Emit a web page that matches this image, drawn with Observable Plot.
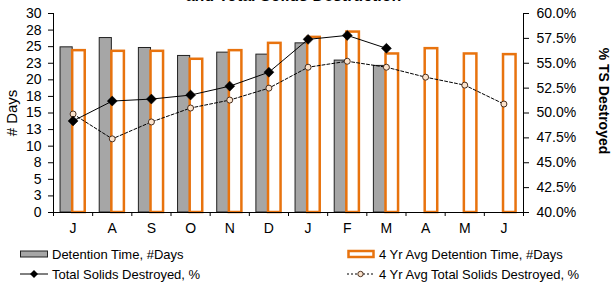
<!DOCTYPE html>
<html>
<head>
<meta charset="utf-8">
<script src="https://cdn.jsdelivr.net/npm/d3@7"></script>
<script src="https://cdn.jsdelivr.net/npm/@observablehq/plot@0.6"></script>
<style>
  html, body { margin: 0; padding: 0; background: white; }
  #wrap { position: relative; width: 614px; height: 289px; overflow: hidden; font-family: "Liberation Sans", Arial, sans-serif; }
  #legend { position: absolute; left: 0; top: 240px; width: 614px; font-size: 13px; color: #000; }
  .row { position: relative; height: 20px; }
  .item { position: absolute; top: 0; height: 20px; display: flex; align-items: center; white-space: nowrap; }
  .item svg { margin-right: 2px; }
</style>
</head>
<body>
<div id="wrap">
  <div id="chart"></div>
  <div id="legend">
    <div class="row" style="margin-top:4px">
      <div class="item" style="left:20px">
        <svg width="30" height="10"><rect x="0.5" y="2" width="27" height="6" fill="#a6a6a6" stroke="#222" stroke-width="1"/></svg>Detention Time, #Days
      </div>
      <div class="item" style="left:347px">
        <svg width="30" height="10"><rect x="1.5" y="2" width="25" height="6" fill="white" stroke="#e8730e" stroke-width="2.5"/></svg>4 Yr Avg Detention Time, #Days
      </div>
    </div>
    <div class="row">
      <div class="item" style="left:20px">
        <svg width="30" height="10"><line x1="0" y1="5" x2="28" y2="5" stroke="#000" stroke-width="1"/><path d="M14,1 L18,5 L14,9 L10,5 Z" fill="#000"/></svg>Total Solids Destroyed, %
      </div>
      <div class="item" style="left:347px">
        <svg width="30" height="10"><line x1="0" y1="5" x2="27" y2="5" stroke="#000" stroke-width="1" stroke-dasharray="2,2"/><circle cx="13.5" cy="5" r="2.7" fill="#fbe3cc" stroke="#4a3020" stroke-width="1"/></svg>4 Yr Avg Total Solids Destroyed, %
      </div>
    </div>
  </div>
</div>
<script>
const months = ["J","A","S","O","N","D","J","F","M","A","M","J"];
const detention = [24.9, 26.3, 24.8, 23.6, 24.1, 23.8, 25.5, 22.9, 22.1, null, null, null];
const avgDetention = [24.4, 24.3, 24.3, 23.1, 24.4, 25.5, 26.4, 27.2, 23.9, 24.7, 23.9, 23.8];
const tsDestroyed = [49.2, 51.2, 51.4, 51.8, 52.7, 54.1, 57.4, 57.8, 56.5, null, null, null];
const avgTsDestroyed = [49.9, 47.4, 49.1, 50.5, 51.3, 52.5, 54.6, 55.2, 54.6, 53.6, 52.8, 50.9];
const leftTicks = [0, 2.5, 5, 7.5, 10, 12.5, 15, 17.5, 20, 22.5, 25, 27.5, 30];
const leftTickLabels = ["0","3","5","8","10","13","15","18","20","23","25","28","30"];
const rightTicks = [40, 42.5, 45, 47.5, 50, 52.5, 55, 57.5, 60];
const rightTickLabels = ["40.0%","42.5%","45.0%","47.5%","50.0%","52.5%","55.0%","57.5%","60.0%"];

// map % (right axis 40..60) onto days scale (0..30)
const pctToDays = p => (p - 40) * 1.5;

const rows = months.map((m, i) => ({
  i, m,
  det: detention[i], avgDet: avgDetention[i],
  ts: tsDestroyed[i], avgTs: avgTsDestroyed[i]
}));
const orange = "#e8730e";

const plot = Plot.plot({
  width: 614, height: 240,
  marginLeft: 53, marginRight: 91, marginTop: 13, marginBottom: 28,
  style: { fontFamily: "Liberation Sans, Arial, sans-serif", fontSize: "14px", color: "#000", background: "white", overflow: "visible" },
  x: { domain: [-0.5, 11.5], axis: null },
  y: { domain: [0, 30], axis: null },
  marks: [
    Plot.rectY(rows.filter(d => d.det != null), { x1: d => d.i - 0.32, x2: d => d.i - 0.01, y: "det", fill: "#a6a6a6", stroke: "#222", strokeWidth: 1 }),
    Plot.rectY(rows, { x1: d => d.i - 0.01, x2: d => d.i + 0.31, y: "avgDet", fill: "white", stroke: orange, strokeWidth: 2.5 }),
    Plot.ruleY([0], { stroke: "#000", strokeWidth: 1 }),
    Plot.ruleX([-0.5, 11.5], { stroke: "#000", strokeWidth: 1 }),
    Plot.line(rows, { x: "i", y: d => pctToDays(d.avgTs), stroke: "#000", strokeWidth: 1, strokeDasharray: "3,2" }),
    Plot.dot(rows, { x: "i", y: d => pctToDays(d.avgTs), r: 3, fill: "#fbe3cc", stroke: "#4a3020", strokeWidth: 1 }),
    Plot.line(rows.filter(d => d.ts != null), { x: "i", y: d => pctToDays(d.ts), stroke: "#000", strokeWidth: 1 }),
    Plot.dot(rows.filter(d => d.ts != null), { x: "i", y: d => pctToDays(d.ts), symbol: "diamond2", r: 4.5, fill: "#000", stroke: "#000", strokeWidth: 0.5 }),
    Plot.axisY(leftTicks, { anchor: "left", tickSize: 5, tickPadding: 7, tickFormat: (d, k) => leftTickLabels[k], fontSize: 14, label: null }),
    Plot.axisY(rightTicks.map(pctToDays), { anchor: "right", tickSize: 5, tickPadding: 8, tickFormat: (d, k) => rightTickLabels[k], fontSize: 14, label: null }),
    Plot.axisX(d3.range(12), { anchor: "bottom", tickSize: 0, tickPadding: 11, tickFormat: i => months[i], fontSize: 14, label: null }),
    Plot.axisX(d3.range(13).map(i => i - 0.5), { anchor: "bottom", tickSize: 4, tickFormat: () => "", label: null }),
    Plot.text(["# Days"], { frameAnchor: "left", textAnchor: "middle", dx: -41, rotate: -90, fontSize: 15 }),
    Plot.text(["% TS Destroyed"], { frameAnchor: "right", textAnchor: "middle", dx: 80, dy: -12, rotate: 90, fontSize: 14, fontWeight: "bold" }),
    Plot.text(["and Total Solids Destruction"], { frameAnchor: "top", dx: 5, dy: -13, lineAnchor: "bottom", fontSize: 16, fontWeight: "bold" })
  ]
});
document.getElementById("chart").appendChild(plot);
</script>
</body>
</html>
